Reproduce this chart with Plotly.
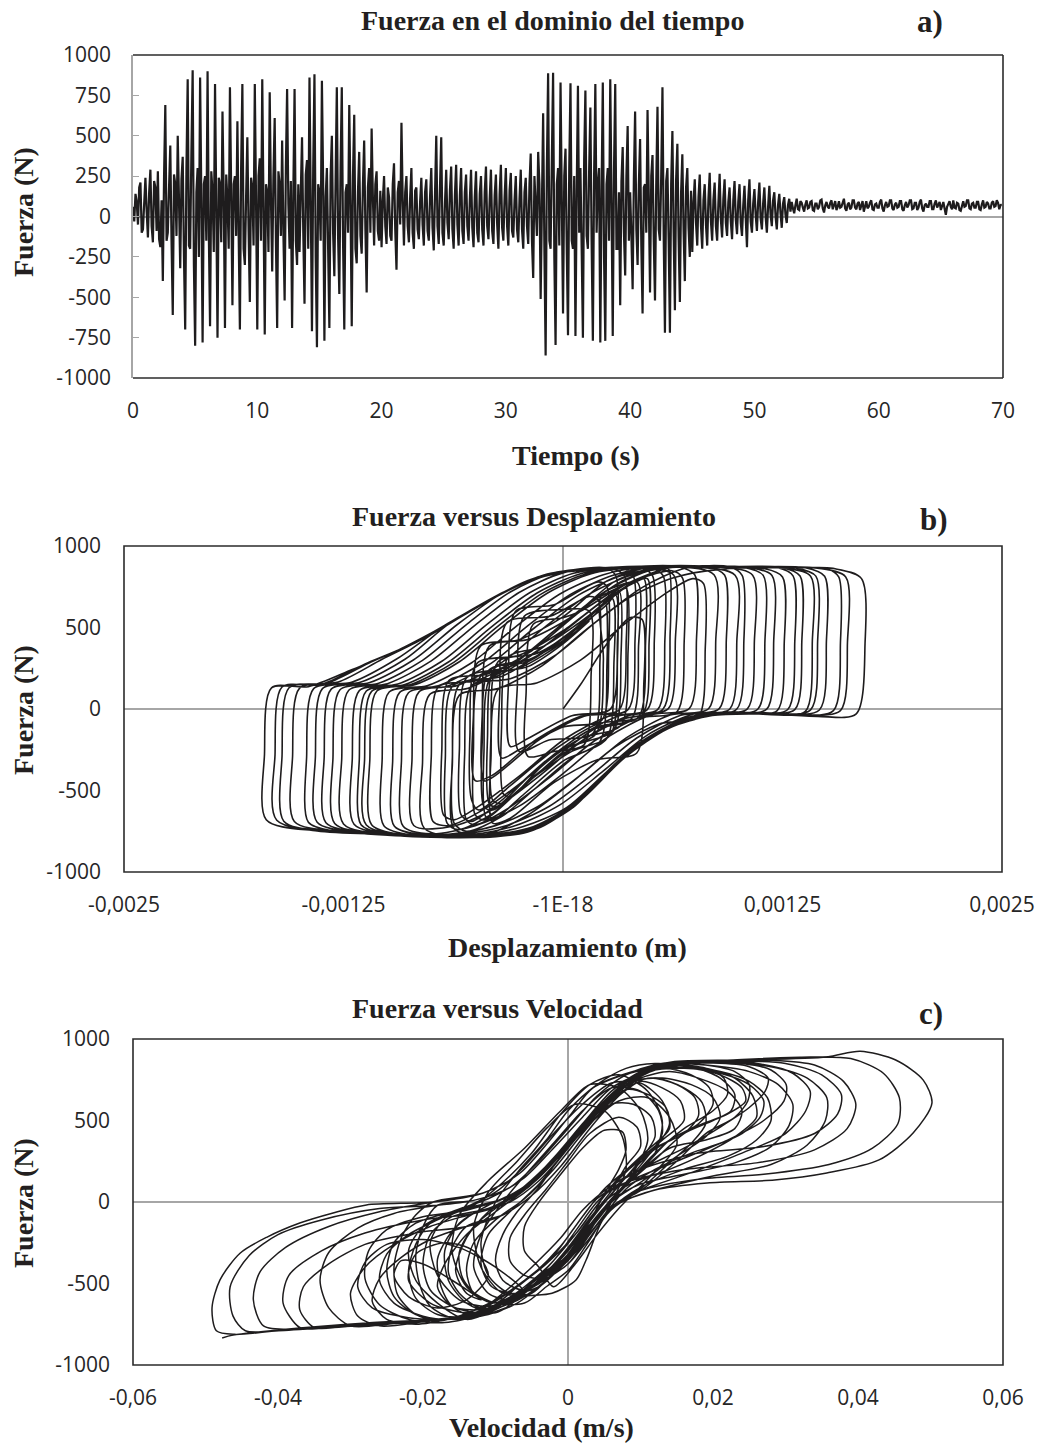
import numpy as np
import plotly.graph_objects as go

# ---------------- a) Fuerza en el dominio del tiempo ----------------
dt_a = 0.1  # s, sampling step of the series below (10 values per second, one row per second)
force_a = [
    60, -30, 140, 90, -50, 180, 210, -100, -80, 120,
    240, 30, -130, 150, 290, -60, -160, 220, 180, -90,
    280, -140, -190, 100, -400, 250, 690, -150, -100, 180,
    440, -150, -610, 260, 200, -120, 500, 100, -320, 230,
    370, -250, -700, 300, 850, -180, -200, 400, 905, -300,
    -800, 150, 300, -250, 860, 100, -780, 200, 250, -150,
    900, -100, -680, 280, 150, -220, 820, 60, -750, 240,
    200, -160, 650, 120, -690, 260, 100, -200, 800, 150,
    -550, 200, 250, -120, 590, -100, -700, 300, 820, -200,
    -300, 120, 490, -80, -530, 240, 180, -180, 820, 100,
    -700, 250, 360, -150, 850, 60, -730, 200, 150, -220,
    770, 100, -340, 250, 610, -160, -690, 280, 200, -120,
    470, -100, -520, 300, 790, 80, -200, 220, -690, 150,
    790, -150, -300, 200, -220, 150, 490, -100, -540, 260,
    350, -200, 860, 100, -710, 300, 880, -250, -810, 200,
    150, -150, 840, 200, -770, 120, 300, -200, -690, 250,
    500, -100, -370, 220, 800, -120, -480, 300, 800, -150,
    -700, 150, 200, -100, 690, 80, -680, 250, 630, -200,
    -290, 150, 400, -120, -230, 200, 470, -80, -470, 180,
    300, -100, 545, 120, -180, 200, 280, -90, -150, 160,
    -190, 100, 250, -60, -170, 180, 120, -120, -150, 200,
    330, -80, -330, 150, 220, -50, 580, 100, -180, 150,
    250, -60, -160, 120, 300, -100, -200, 160, 180, -80,
    -140, 90, 240, -50, -180, 150, 230, -90, -150, 120,
    300, -70, -210, 140, 500, -60, -170, 180, 490, -100,
    -180, 80, 290, -40, -140, 160, 310, -80, -200, 130,
    320, -50, -180, 130, 300, -90, -170, 150, 260, -60,
    -150, 100, 290, -70, -190, 120, 280, -100, -160, 140,
    250, -80, -180, 150, 310, -60, -140, 110, 290, -90,
    -170, 130, 260, -50, -200, 140, 320, -70, -150, 120,
    300, -60, -180, 160, 270, -90, -130, 100, 250, -80,
    -160, 110, 290, -80, -200, 150, 240, -60, -170, 200,
    390, -150, -380, 250, 100, -120, 400, 200, -510, 300,
    640, -200, -860, 300, 887, -150, -200, 350, 890, -250,
    -795, 200, 300, -180, 830, 100, -600, 250, 420, -200,
    -735, 300, 825, -150, -200, 250, -740, 150, 810, -100,
    300, -200, -750, 350, 780, -120, -200, 280, 675, -150,
    -770, 250, 820, -100, 200, 300, -780, 150, 830, -250,
    -770, 200, 300, -150, 850, 100, -740, 280, 820, -200,
    -200, 150, -550, 220, 430, -100, -365, 250, 560, -150,
    150, -120, -450, 230, 650, -80, -300, 200, 480, -180,
    -600, 180, 200, -100, 660, 120, -470, 250, 380, -150,
    -520, 200, 680, -80, -150, 250, 800, -120, -720, 220,
    300, -150, -720, 200, 530, -100, -580, 230, 450, -130,
    -530, 150, 385, -90, -400, 180, 300, -70, -250, 160,
    -220, 90, 230, -40, -180, 120, 260, -60, -200, 100,
    200, -50, -180, 110, 270, -30, -150, 100, 210, -60,
    -150, 80, 265, -20, -130, 110, 230, -40, -120, 90,
    180, -30, -140, 100, 220, -20, -110, 90, 200, -40,
    -120, 70, 190, -10, -190, 100, 230, -30, -100, 80,
    170, 10, -90, 90, 210, -10, -80, 80, 180, 0,
    -100, 60, 190, 10, -60, 100, 150, 0, -80, 70,
    140, 20, -70, 80, 120, 10, -40, 70, 110, 30,
    90, 50, 20, 70, 110, 45, 40, 95, 85, 55,
    30, 75, 100, 50, 55, 90, 95, 40, 35, 80,
    80, 45, 60, 100, 105, 50, 25, 70, 90, 60,
    50, 85, 100, 45, 70, 95, 40, 60, 95, 55,
    60, 90, 110, 50, 35, 75, 85, 45, 55, 100,
    100, 55, 45, 80, 90, 40, 70, 95, 30, 65,
    95, 50, 60, 85, 100, 45, 40, 75, 80, 55,
    55, 90, 105, 50, 30, 70, 90, 60, 65, 100,
    100, 50, 40, 75, 85, 55, 60, 95, 95, 45,
    35, 70, 90, 55, 70, 100, 100, 45, 50, 85,
    85, 40, 55, 90, 105, 50, 30, 70, 80, 60,
    60, 95, 95, 45, 45, 80, 100, 55, 70, 90,
    40, 75, 90, 50, 10, 60, 85, 95, 60, 45,
    100, 55, 50, 85, 80, 40, 35, 70, 95, 60,
    65, 100, 100, 50, 45, 80, 85, 55, 55, 90,
    90, 45, 40, 75, 100, 55, 60, 90, 80, 50,
    50, 85, 95, 60, 65, 100, 85, 45, 70, 75,
]
time_a = np.arange(len(force_a)) * dt_a
time_ticks = [0, 10, 20, 30, 40, 50, 60, 70]
force_ticks_a = [1000, 750, 500, 250, 0, -250, -500, -750, -1000]

# ---------------- b) Fuerza versus Desplazamiento (desplazamiento en mm) ----------------
disp_b_mm = [
    0.00, 0.10, 0.25, 0.38,
    0.45, 0.46, 0.42, 0.20, -0.05, -0.30, -0.40, -0.41, -0.37, -0.15, 0.10, 0.35, 0.60, 0.74,
    0.80, 0.81, 0.77, 0.55, 0.30, 0.05, -0.20, -0.45, -0.62, -0.63, -0.59, -0.37, -0.12, 0.13, 0.38, 0.63, 0.88, 1.15,
    1.25, 1.26, 1.22, 1.00, 0.75, 0.50, 0.25, 0.00, -0.25, -0.60, -0.90, -1.09, -1.10, -1.06, -0.84, -0.59, -0.34, -0.09, 0.16, 0.41, 0.80, 1.20, 1.55,
    1.70, 1.72, 1.67, 1.45, 1.10, 0.80, 0.55, 0.30, 0.05, -0.20, -0.60, -1.00, -1.40, -1.69, -1.70, -1.66, -1.45, -1.20, -0.95, -0.70, -0.45, -0.20, 0.05, 0.40, 0.80, 1.25,
    1.41, 1.42, 1.38, 1.15, 0.85, 0.60, 0.35, 0.10, -0.15, -0.50, -0.90, -1.25, -1.53, -1.54, -1.50, -1.28, -1.03, -0.78, -0.53, -0.28, -0.03, 0.30, 0.70,
    0.98, 0.99, 0.95, 0.73, 0.48, 0.23, -0.02, -0.27, -0.52, -0.77, -0.96, -0.97, -0.93, -0.71, -0.46, -0.21, 0.04, 0.29, 0.50,
    0.57, 0.58, 0.54, 0.32, 0.07, -0.18, -0.43, -0.65, -0.74, -0.75, -0.71, -0.49, -0.24, 0.01, 0.26, 0.51, 0.76, 1.05,
    1.19, 1.20, 1.16, 0.94, 0.69, 0.44, 0.19, -0.06, -0.31, -0.70, -1.05, -1.30, -1.31, -1.27, -1.05, -0.80, -0.55, -0.30, -0.05, 0.20, 0.60, 1.00, 1.45,
    1.61, 1.62, 1.58, 1.35, 1.05, 0.80, 0.60, 0.35, 0.12, -0.10, -0.40, -0.80, -1.20, -1.63, -1.64, -1.60, -1.38, -1.13, -0.88, -0.63, -0.38, -0.13, 0.15, 0.50, 0.90,
    1.08, 1.09, 1.05, 0.83, 0.58, 0.33, 0.08, -0.17, -0.42, -0.80, -1.15, -1.40, -1.41, -1.37, -1.15, -0.90, -0.65, -0.40, -0.15, 0.10, 0.45,
    0.63, 0.64, 0.60, 0.38, 0.13, -0.12, -0.37, -0.62, -0.85, -0.86, -0.82, -0.60, -0.35, -0.10, 0.15, 0.40, 0.65, 1.00, 1.38,
    1.49, 1.50, 1.46, 1.20, 0.92, 0.70, 0.45, 0.22, 0.00, -0.25, -0.60, -1.00, -1.35, -1.59, -1.60, -1.56, -1.34, -1.09, -0.84, -0.59, -0.34, -0.09, 0.20, 0.60,
    0.86, 0.87, 0.83, 0.61, 0.36, 0.11, -0.14, -0.39, -0.64, -0.95, -1.19, -1.20, -1.16, -0.94, -0.69, -0.44, -0.19, 0.06, 0.28,
    0.35, 0.36, 0.32, 0.10, -0.15, -0.40, -0.50, -0.51, -0.47, -0.25, 0.00, 0.25, 0.50, 0.90, 1.25,
    1.35, 1.36, 1.32, 1.08, 0.85, 0.62, 0.40, 0.16, -0.08, -0.35, -0.75, -1.10, -1.35, -1.36, -1.32, -1.10, -0.85, -0.60, -0.35, -0.10, 0.15, 0.50, 0.82,
    0.92, 0.93, 0.89, 0.67, 0.42, 0.17, -0.08, -0.33, -0.58, -0.85, -1.02, -1.03, -0.99, -0.77, -0.52, -0.27, -0.02, 0.23, 0.45,
    0.51, 0.52, 0.48, 0.26, 0.01, -0.24, -0.49, -0.62, -0.68, -0.69, -0.65, -0.43, -0.18, 0.07, 0.32, 0.57, 0.90, 1.30, 1.50,
    1.57, 1.58, 1.54, 1.30, 1.00, 0.75, 0.52, 0.28, 0.05, -0.20, -0.55, -0.95, -1.25, -1.26, -1.22, -1.00, -0.75, -0.50, -0.25, 0.00, 0.30, 0.70, 1.02,
    1.14, 1.15, 1.11, 0.89, 0.64, 0.39, 0.14, -0.11, -0.36, -0.75, -1.00, -1.15, -1.16, -1.12, -0.90, -0.65, -0.40, -0.15, 0.10, 0.35, 0.65,
    0.75, 0.76, 0.72, 0.50, 0.25, 0.00, -0.25, -0.50, -0.75, -0.91, -0.92, -0.88, -0.66, -0.41, -0.16, 0.09, 0.34, 0.59, 0.95, 1.22,
    1.31, 1.32, 1.28, 1.06, 0.81, 0.56, 0.31, 0.06, -0.19, -0.50, -0.79, -0.80, -0.76, -0.54, -0.29, -0.04, 0.21, 0.46, 0.62,
    0.68, 0.69, 0.65, 0.43, 0.18, -0.07, -0.32, -0.50, -0.55, -0.56, -0.52, -0.30, -0.05, 0.20, 0.45, 0.70, 0.95,
    1.02, 1.03, 0.99, 0.77, 0.52, 0.27, 0.02, -0.23, -0.48, -0.80, -1.12, -1.13, -1.09, -0.87, -0.62, -0.37, -0.12, 0.13, 0.34,
    0.40, 0.41, 0.37, 0.12, -0.13, -0.38, -0.45, -0.46, -0.42, -0.20, 0.05, 0.30, 0.55, 0.95, 1.32,
    1.44, 1.45, 1.41, 1.15, 0.88, 0.65, 0.42, 0.20, -0.02, -0.28, -0.65, -1.05, -1.30, -1.45, -1.46, -1.42, -1.20, -0.95, -0.70, -0.45, -0.20, 0.05, 0.24,
    0.30, 0.31, 0.27, 0.05, -0.20, -0.30, -0.31, -0.27, -0.05, 0.20,
    0.25, 0.26, 0.22, 0.00, -0.25, -0.35, -0.36, -0.32, -0.07, 0.15,
    0.20, 0.21, 0.17, -0.08, -0.25, -0.26, -0.22, 0.00,
    0.15, 0.16, 0.12, -0.05, -0.20, -0.21, -0.17, 0.00, 0.10,
    0.42, 0.43, 0.39, 0.15, -0.10, -0.35, -0.52, -0.58, -0.59, -0.55, -0.30, -0.05, 0.20, 0.38,
    0.48, 0.49, 0.45, 0.20, -0.05, -0.30, -0.48, -0.52, -0.53, -0.49, -0.25, 0.00, 0.25, 0.40,
    0.22, 0.23, 0.19, 0.00, -0.20, -0.38, -0.42, -0.43, -0.39, -0.20, 0.00, 0.18,
    0.28, 0.29, 0.25, 0.05, -0.15, -0.35, -0.55, -0.62, -0.63, -0.59, -0.35, -0.10, 0.10, 0.30,
    0.36, 0.37, 0.33, 0.10, -0.12, -0.30, -0.34, -0.35, -0.31, -0.12, 0.08, 0.25,
    0.32, 0.33, 0.29, 0.08, -0.15, -0.40, -0.60, -0.66, -0.67, -0.63, -0.40, -0.15, 0.10, 0.35, 0.55,
    0.60, 0.61, 0.57, 0.35, 0.10, -0.15, -0.35, -0.40, -0.41, -0.37, -0.15, 0.05, 0.25,
    0.30, 0.31, 0.27, 0.05, -0.18, -0.40, -0.45, -0.46, -0.42, -0.20, 0.02, 0.20, 0.40,
    0.46, 0.47, 0.43, 0.20, -0.02, -0.25, -0.45, -0.50, -0.51, -0.47, -0.25, 0.00, 0.20,
    0.24, 0.25, 0.21, 0.00, -0.22, -0.40, -0.44, -0.45, -0.41, -0.20, 0.00, 0.15,
]
force_b = [
    0, 150, 400, 560,
    550, 150, -270, -310, -450, -670, -700, -300, 120, 160, 300, 520, 720, 800,
    770, 370, -50, -90, -230, -450, -650, -770, -735, -340, 85, 125, 265, 485, 685, 805, 855, 860,
    810, 410, -10, -25, -50, -175, -390, -640, -760, -785, -775, -710, -310, 110, 150, 290, 510, 710, 830, 868, 872, 868, 860,
    800, 400, -30, -45, -25, -35, -140, -340, -600, -755, -790, -770, -748, -680, -280, 130, 137, 242, 355, 495, 650, 788, 852, 870, 873, 866,
    815, 420, -15, -28, -40, -120, -300, -560, -735, -780, -770, -752, -690, -290, 128, 165, 305, 440, 598, 748, 833, 866, 872,
    820, 420, 0, -35, -160, -380, -590, -715, -770, -775, -720, -320, 102, 142, 282, 502, 702, 822, 862,
    818, 420, -2, -42, -182, -402, -602, -715, -690, -290, 135, 175, 315, 535, 735, 855, 872, 870,
    819, 420, -1, -25, -68, -215, -455, -680, -770, -786, -764, -702, -302, 118, 158, 298, 518, 718, 836, 864, 874, 870, 864,
    810, 410, -10, -35, -22, -32, -115, -285, -520, -700, -782, -783, -757, -683, -283, 135, 150, 275, 390, 540, 692, 815, 860, 872, 872,
    821, 420, 1, -30, -125, -310, -570, -722, -772, -782, -757, -695, -295, 125, 165, 305, 522, 678, 806, 856, 870,
    822, 425, 2, -38, -178, -398, -598, -718, -715, -315, 105, 145, 285, 505, 705, 825, 872, 871, 866,
    814, 415, -6, -30, -18, -55, -200, -420, -630, -762, -790, -770, -750, -688, -288, 130, 160, 290, 408, 566, 716, 828, 864, 874,
    823, 425, 3, -37, -177, -397, -597, -717, -767, -770, -707, -307, 113, 153, 293, 513, 713, 833, 860,
    815, 420, -5, -45, -185, -405, -440, -40, 385, 425, 565, 785, 872, 872, 867,
    816, 415, -4, -20, -28, -95, -235, -480, -690, -774, -786, -760, -698, -298, 122, 162, 302, 520, 708, 823, 861, 873, 873,
    822, 425, 2, -38, -178, -398, -598, -718, -768, -775, -716, -316, 104, 144, 284, 504, 704, 824, 862,
    816, 420, -4, -44, -184, -404, -604, -680, -650, -250, 175, 215, 355, 575, 775, 872, 871, 866, 862,
    810, 410, -10, -38, -25, -42, -160, -360, -590, -748, -788, -772, -705, -305, 115, 155, 295, 515, 715, 835, 868, 873, 871,
    820, 420, 0, -28, -88, -255, -505, -708, -776, -785, -768, -710, -310, 110, 150, 290, 510, 710, 830, 868, 874,
    824, 425, 4, -36, -176, -396, -596, -716, -766, -720, -320, 100, 140, 280, 500, 700, 820, 870, 871, 868,
    817, 415, -3, -22, -32, -138, -322, -602, -747, -788, -732, -332, 88, 128, 268, 488, 688, 808, 848,
    805, 410, -15, -55, -195, -415, -615, -710, -680, -280, 145, 185, 325, 545, 745, 865, 871,
    820, 420, 0, -40, -160, -365, -605, -722, -772, -780, -712, -312, 108, 148, 288, 508, 708, 828, 860,
    816, 420, -4, -44, -184, -404, -440, -40, 386, 426, 566, 786, 874, 872, 866,
    815, 415, -5, -27, -26, -82, -225, -440, -650, -768, -788, -765, -750, -695, -295, 125, 165, 305, 493, 648, 788, 852, 866,
    819, 420, -1, -41, -181, -230, 170, 600, 640, 780,
    750, 360, -70, -110, -250, -300, 100, 530, 570, 690,
    670, 280, -150, -190, -260, 140, 570, 610,
    600, 210, -220, -260, -290, 100, 520, 560, 600,
    780, 380, -60, -130, -320, -560, -690, -650, -250, 190, 260, 430, 640, 760,
    800, 400, -40, -90, -250, -470, -620, -560, -160, 280, 330, 480, 680, 780,
    700, 300, -150, -250, -420, -600, -580, -180, 250, 300, 420, 600,
    680, 280, -180, -300, -480, -660, -750, -700, -300, 150, 200, 360, 520, 700,
    740, 340, -100, -180, -350, -540, -520, -120, 320, 380, 520, 660,
    720, 320, -130, -220, -400, -640, -740, -700, -300, 140, 190, 350, 560, 760, 850,
    860, 460, 0, -60, -200, -400, -580, -560, -160, 290, 340, 470, 640,
    700, 300, -160, -260, -430, -620, -600, -200, 240, 290, 450, 620, 780,
    800, 400, -50, -110, -280, -500, -680, -650, -250, 200, 250, 410, 600,
    660, 260, -200, -320, -520, -680, -660, -260, 200, 260, 400, 540,
]
disp_b = np.array(disp_b_mm) / 1000.0
disp_ticks = [-0.0025, -0.00125, 0.0, 0.00125, 0.0025]
disp_ticktext = ["-0,0025", "-0,00125", "-1E-18", "0,00125", "0,0025"]
force_ticks_bc = [1000, 500, 0, -500, -1000]

# ---------------- c) Fuerza versus Velocidad (velocidad en mm/s) ----------------
vel_c_mms = [
    -47.7, -46.2, -37.0, -27.8, -18.6, -14.0, -11.7, -6.6, -2.2, 1.1, 2.5, 4.8, 7.2, 12.0, 19.2, 28.5, 35.7, 42.9, 47.6, 50.2, 49.0, 45.2, 40.3, 35.7, 23.9, 14.3, 9.7, 3.4, 0.1, -6.6, -11.7, -18.6, -27.8, -32.4, -37.0, -41.5, -45.2, -48.0, -49.1, -48.5,
    -46.0, -38.0, -28.0, -16.0, -11.0, -7.0, -3.0, 0.0, 3.0, 6.0, 10.0, 18.0, 27.0, 36.0, 42.0, 45.5, 45.7, 43.5, 39.0, 32.0, 22.0, 13.0, 8.0, 4.0, 0.0, -4.0, -8.0, -13.0, -18.0, -26.0, -34.0, -40.0, -44.0, -46.6, -46.2, -44.5,
    -40.0, -32.0, -24.0, -15.0, -10.0, -6.0, -2.0, 1.0, 4.0, 8.0, 16.0, 26.0, 34.0, 38.5, 39.7, 38.0, 34.0, 28.0, 20.0, 14.3, 9.7, 3.4, 0.1, -6.6, -11.7, -18.6, -26.0, -33.0, -39.0, -42.5, -43.4, -42.0,
    -37.0, -28.0, -20.0, -13.0, -9.0, -5.0, -1.0, 2.0, 6.0, 10.0, 18.0, 27.0, 34.0, 37.2, 37.7, 35.0, 30.0, 22.0, 12.0, 8.0, 4.0, 0.0, -4.0, -8.0, -13.0, -20.0, -28.0, -34.0, -38.5, -39.3, -37.0,
    -34.0, -26.0, -18.6, -14.0, -11.7, -6.6, -2.2, 1.1, 2.5, 4.8, 7.2, 12.0, 20.0, 28.0, 33.0, 35.5, 35.7, 33.0, 28.0, 21.0, 11.0, 7.0, 3.0, -1.0, -5.0, -9.0, -14.0, -21.0, -28.0, -33.0, -36.5, -37.0, -35.0,
    -31.0, -24.0, -16.0, -11.0, -7.0, -3.0, 0.0, 3.0, 6.0, 10.0, 17.0, 24.0, 30.0, 32.8, 33.4, 31.0, 26.0, 19.0, 13.0, 8.0, 4.0, 0.0, -4.0, -8.0, -13.0, -18.0, -24.0, -29.0, -33.0, -34.2, -33.0, -30.0,
    -24.0, -15.0, -10.0, -6.0, -2.0, 1.0, 4.0, 8.0, 15.0, 22.0, 27.0, 29.8, 30.1, 28.0, 24.0, 18.0, 12.0, 8.0, 4.0, 0.0, -4.0, -8.0, -13.0, -19.0, -24.0, -28.0, -30.0, -29.0, -26.0,
    -20.0, -13.0, -9.0, -5.0, -1.0, 2.0, 6.0, 10.0, 16.0, 21.0, 25.0, 27.2, 27.6, 25.0, 20.0, 15.0, 11.0, 7.0, 3.0, -1.0, -5.0, -9.0, -14.0, -19.0, -23.0, -26.0, -27.0, -25.0, -21.0,
    -16.0, -11.0, -7.0, -3.0, 0.0, 3.0, 6.0, 10.0, 15.0, 19.0, 23.0, 24.8, 25.0, 23.0, 19.0, 15.0, 9.7, 3.4, 0.1, -6.6, -11.7, -18.6, -21.0, -23.0, -24.0, -23.5, -21.0, -18.0,
    -15.0, -10.0, -6.0, -2.0, 1.0, 4.0, 8.0, 12.0, 16.0, 20.0, 22.0, 21.5, 19.0, 15.0, 8.0, 4.0, 0.0, -4.0, -8.0, -13.0, -18.0, -20.0, -21.0, -20.5, -19.0, -16.0,
    -13.0, -9.0, -5.0, -1.0, 2.0, 6.0, 10.0, 14.0, 18.0, 20.0, 19.5, 17.0, 13.0, 8.0, 4.0, 0.0, -4.0, -8.0, -13.0, -16.0, -18.0, -17.5, -16.0, -13.0,
    -10.0, -6.0, -2.0, 1.0, 4.0, 8.0, 12.0, 16.0, 18.0, 17.5, 15.0, 11.0, 7.0, 3.0, -1.0, -5.0, -9.0, -14.0, -16.0, -16.5, -15.0, -12.0,
    -9.0, -5.0, -1.0, 2.0, 5.0, 9.0, 13.0, 16.0, 15.5, 13.0, 10.0, 6.0, 2.0, -2.0, -6.0, -10.0, -13.0, -14.0, -13.0, -10.0,
    -7.0, -3.0, 1.0, 4.0, 7.0, 11.0, 14.0, 13.5, 11.0, 8.0, 4.0, 0.0, -4.0, -8.0, -11.0, -12.0, -10.5, -7.0,
    -4.0, 0.0, 3.0, 6.0, 9.0, 14.0, 19.0, 23.0, 24.0, 22.0, 18.0, 14.0, 10.0, 6.0, 2.0, -2.0, -6.0, -11.0, -16.0, -19.0, -20.0, -19.0, -16.0, -12.0,
    -8.0, -4.0, 0.0, 3.0, 6.0, 10.0, 16.0, 22.0, 26.0, 28.0, 27.5, 25.0, 21.0, 16.0, 11.0, 7.0, 3.0, -1.0, -5.0, -10.0, -16.0, -21.0, -24.0, -25.0, -24.0, -21.0, -16.0,
    -11.0, -7.0, -3.0, 0.0, 3.0, 6.0, 10.0, 15.0, 19.0, 21.0, 20.0, 17.0, 13.0, 9.0, 5.0, 1.0, -3.0, -8.0, -14.0, -20.0, -25.0, -27.5, -28.0, -26.0, -22.0, -17.0,
    -12.0, -8.0, -4.0, 0.0, 3.0, 6.0, 10.0, 16.0, 23.0, 28.0, 30.5, 31.0, 29.0, 25.0, 19.0, 14.0, 10.0, 6.0, 2.0, -2.0, -6.0, -11.0, -15.0, -17.0, -16.5, -14.0, -10.0,
    -6.0, -2.0, 1.0, 4.0, 7.0, 10.0, 12.0, 11.5, 9.0, 6.0, 3.0, -1.0, -4.0, -7.0, -9.0, -10.0, -9.0, -6.0,
    -3.0, 0.0, 3.0, 6.0, 8.0, 10.0, 9.5, 7.0, 3.0, 0.0, -3.0, -6.0, -8.0, -8.0, -6.0, -3.0,
    0.0, 3.0, 6.0, 10.0, 14.0, 17.0, 19.0, 18.5, 16.0, 12.0, 8.0, 4.0, 0.0, -4.0, -9.0, -15.0, -19.0, -21.0, -22.0, -21.0, -18.0, -13.0,
    -9.0, -5.0, -1.0, 2.0, 5.0, 9.0, 14.0, 19.0, 23.0, 26.0, 25.5, 23.0, 19.0, 14.0, 10.0, 6.0, 2.0, -2.0, -6.0, -10.0, -13.0, -15.0, -14.5, -12.0, -8.0,
    -3.0, 0.0, 3.0, 5.0, 7.0, 8.0, 7.5, 5.0, 2.0, -1.0, -4.0, -6.0, -6.0, -4.0,
    -2.0, 1.0, 4.0, 7.0, 11.0, 15.0, 14.0, 11.0, 7.0, 3.0, -1.0, -5.0, -10.0, -14.0, -17.0, -18.0, -16.0, -12.0,
    -8.0, -4.0, 0.0, 3.0, 6.0, 9.0, 11.0, 10.0, 7.0, 3.0, -1.0, -6.0, -11.0, -15.0, -16.0, -14.0, -10.0,
    -6.0, -3.0, 0.0, 2.0, 4.0, 6.0, 8.0, 7.5, 5.0, 1.0, -3.0, -7.0, -11.0, -13.0, -12.0, -9.0,
    -5.0, -2.0, 1.0, 3.0, 5.0, 8.0, 12.0, 13.0, 11.0, 7.0, 3.0, -1.0, -5.0, -9.0, -13.0, -17.0, -19.0, -18.0, -15.0, -11.0,
    -7.0, -3.0, 0.0, 2.5, 5.0, 8.0, 12.0, 16.0, 20.0, 22.5, 23.0, 21.0, 17.0, 12.0, 8.0, 4.0, 0.0, -3.0, -7.0, -10.0, -12.0, -11.0, -8.0,
    -4.0, -1.0, 2.0, 5.0, 8.0, 12.0, 17.0, 21.0, 24.0, 26.5, 27.0, 25.0, 21.0, 16.0, 11.0, 6.0, 2.0, -2.0, -6.0, -11.0, -16.0, -20.0, -22.0, -21.0, -18.0,
    -14.0, -10.0, -6.0, -3.0, 0.0, 3.0, 6.0, 9.0, 12.0, 14.0, 13.0, 10.0, 6.0, 2.0, -2.0, -6.0, -10.0, -14.0, -18.0, -22.0, -25.0, -26.0, -24.0, -20.0,
    -16.0, -11.0, -7.0, -4.0, -1.0, 2.0, 5.0, 8.0, 11.0, 13.0, 12.5, 10.0, 6.0, 2.0, -2.0, -6.0, -9.0, -12.0, -13.0, -11.0, -8.0,
    -5.0, -2.0, 1.0, 4.0, 7.0, 10.0, 14.0, 18.0, 22.0, 24.5, 24.0, 21.0, 17.0, 13.0, 9.0, 5.0, 1.0, -3.0, -7.0, -11.0, -14.0, -15.5, -14.0,
    -12.0, -16.0, -20.0, -23.0, -24.0, -22.0, -18.0, -14.0, -11.0, -13.0, -17.0, -21.0, -22.0, -19.0, -14.0, -9.0,
    -6.0, -10.0, -15.0, -20.0, -25.0, -28.0, -29.0, -27.0, -22.0, -17.0, -12.0, -8.0,
]
force_c = [
    -834, -816, -773, -742, -724, -712, -681, -583, -560, -478, -356, -110, -6, 74, 117, 135, 178, 258, 423, 607, 748, 871, 925, 890, 871, 859, 810, 699, 521, 178, 55, 0, -18, -67, -129, -215, -313, -478, -650, -790,
    -812, -780, -748, -715, -650, -560, -470, -380, -200, -30, 70, 140, 170, 230, 330, 480, 640, 790, 880, 888, 870, 850, 780, 650, 450, 250, 90, 10, -20, -40, -110, -200, -330, -520, -700, -790,
    -790, -765, -738, -700, -600, -480, -330, -150, 20, 120, 200, 240, 320, 450, 600, 740, 840, 870, 868, 859, 810, 699, 521, 178, 55, 0, -60, -150, -280, -430, -600, -760,
    -780, -752, -728, -690, -560, -400, -220, -50, 100, 200, 300, 340, 420, 540, 660, 780, 850, 862, 830, 720, 560, 330, 130, 0, -70, -110, -190, -300, -450, -620, -770,
    -775, -745, -724, -712, -681, -583, -560, -478, -356, -110, -6, 74, 160, 230, 350, 500, 640, 760, 830, 858, 800, 650, 450, 220, 40, -80, -150, -190, -260, -380, -520, -660, -770,
    -765, -740, -715, -650, -560, -470, -380, -200, -30, 70, 180, 300, 420, 560, 680, 790, 850, 858, 850, 780, 650, 450, 250, 90, 10, -20, -70, -160, -310, -480, -650, -760,
    -745, -700, -600, -480, -330, -150, 20, 120, 250, 380, 500, 620, 720, 810, 850, 855, 830, 720, 560, 330, 130, 0, -70, -150, -260, -400, -560, -700, -760,
    -735, -690, -560, -400, -220, -50, 100, 200, 330, 460, 580, 680, 760, 830, 852, 845, 800, 650, 450, 220, 40, -80, -150, -230, -340, -470, -610, -720, -750,
    -715, -650, -560, -470, -380, -200, -30, 70, 250, 420, 520, 620, 720, 800, 840, 850, 810, 699, 521, 178, 55, 0, -80, -220, -400, -570, -690, -730,
    -700, -600, -480, -330, -150, 20, 120, 300, 450, 560, 660, 760, 820, 840, 780, 650, 450, 250, 90, 10, -20, -150, -330, -500, -640, -710,
    -690, -560, -400, -220, -50, 100, 200, 380, 480, 600, 700, 780, 820, 720, 560, 330, 130, 0, -70, -180, -350, -520, -640, -700,
    -640, -520, -360, -180, 0, 150, 330, 420, 530, 640, 720, 760, 650, 450, 220, 40, -80, -150, -280, -430, -560, -650,
    -580, -450, -270, -90, 80, 230, 380, 500, 620, 700, 740, 620, 420, 200, 20, -110, -250, -420, -560, -620,
    -520, -380, -200, -20, 150, 320, 450, 580, 660, 690, 540, 330, 110, -60, -200, -380, -520, -560,
    -450, -330, -150, 20, 150, 330, 380, 450, 560, 680, 760, 800, 760, 640, 460, 250, 80, -40, -90, -200, -380, -540, -640, -680,
    -600, -500, -380, -220, -40, 90, 200, 280, 380, 500, 640, 740, 800, 830, 800, 680, 500, 290, 110, 0, -60, -130, -250, -420, -580, -690, -720,
    -660, -570, -450, -340, -170, 0, 120, 280, 400, 520, 640, 720, 760, 740, 600, 400, 200, 40, -50, -90, -170, -300, -470, -630, -720, -740,
    -690, -600, -480, -320, -140, 10, 110, 170, 240, 340, 470, 600, 720, 800, 840, 845, 800, 680, 480, 270, 90, -20, -130, -300, -480, -620, -680,
    -560, -400, -240, -60, 100, 260, 400, 520, 600, 600, 480, 280, 90, -60, -200, -360, -480, -540,
    -430, -280, -100, 70, 220, 340, 460, 520, 420, 250, 80, -80, -220, -360, -450, -470,
    -360, -200, -30, 80, 240, 360, 480, 610, 700, 760, 720, 560, 360, 160, 20, -50, -130, -260, -430, -590, -690, -700,
    -620, -500, -340, -170, 0, 120, 200, 300, 400, 520, 650, 760, 820, 840, 790, 660, 470, 260, 80, -40, -150, -310, -470, -590, -620,
    -480, -320, -120, 50, 200, 320, 430, 440, 330, 170, 0, -150, -300, -400,
    -520, -380, -200, -40, 140, 350, 520, 640, 620, 480, 300, 110, -60, -200, -380, -520, -640, -660,
    -600, -480, -330, -170, 0, 180, 380, 560, 700, 720, 560, 330, 130, -80, -300, -520, -620,
    -620, -520, -420, -300, -160, 0, 200, 400, 560, 600, 450, 250, 60, -150, -400, -560,
    -560, -430, -300, -180, -40, 100, 300, 500, 680, 780, 720, 540, 300, 120, -20, -100, -250, -450, -600, -640,
    -580, -460, -340, -200, -50, 100, 260, 420, 500, 560, 660, 760, 830, 850, 820, 720, 560, 380, 180, 0, -250, -450, -560,
    -520, -400, -250, -80, 80, 200, 300, 360, 420, 520, 620, 720, 790, 820, 800, 700, 520, 330, 150, 20, -60, -150, -300, -480, -620,
    -720, -660, -560, -440, -300, -120, 50, 200, 330, 480, 620, 730, 730, 600, 420, 220, 60, -30, -110, -200, -320, -480, -620, -700,
    -720, -690, -620, -520, -390, -220, -40, 120, 280, 420, 560, 680, 700, 560, 360, 160, 0, -200, -400, -560, -600,
    -500, -360, -200, -20, 140, 260, 380, 470, 540, 620, 700, 780, 820, 830, 770, 620, 420, 220, 60, -60, -220, -420, -560,
    -600, -480, -380, -360, -450, -580, -650, -600, -450, -300, -250, -320, -480, -620, -680, -640,
    -560, -400, -280, -230, -260, -370, -520, -650, -710, -720, -700, -640,
]
vel_c = np.array(vel_c_mms) / 1000.0
vel_ticks = [-0.06, -0.04, -0.02, 0.0, 0.02, 0.04, 0.06]
vel_ticktext = ["-0,06", "-0,04", "-0,02", "0", "0,02", "0,04", "0,06"]

assert len(force_a) == 700, len(force_a)
assert len(disp_b) == len(force_b), (len(disp_b), len(force_b))
assert len(vel_c) == len(force_c), (len(vel_c), len(force_c))

# ---------------- figure ----------------
W, H = 1037, 1456
INK = "#1e1c1d"
GRAY = "#a6a6a6"
BORDER = "#2b2b2b"
TICKFONT = dict(family="Open Sans", size=21, color="#262626")
SERIF = "Liberation Serif"


def fx(p):
    return p / W


def fy(p):
    return 1 - p / H


fig = go.Figure()
fig.add_trace(go.Scatter(x=time_a, y=force_a, mode="lines",
                         line=dict(color=INK, width=2.2),
                         xaxis="x", yaxis="y", hoverinfo="skip"))
fig.add_trace(go.Scatter(x=disp_b, y=force_b, mode="lines",
                         line=dict(color=INK, width=1.6, shape="spline", smoothing=0.8),
                         xaxis="x2", yaxis="y2", hoverinfo="skip"))
fig.add_trace(go.Scatter(x=vel_c, y=force_c, mode="lines",
                         line=dict(color=INK, width=1.5, shape="spline", smoothing=0.8),
                         xaxis="x3", yaxis="y3", hoverinfo="skip"))

common_x = dict(showgrid=False, ticks="", showline=False, tickfont=TICKFONT,
                tickmode="array", fixedrange=True, automargin=False, ticklabelstandoff=18)
common_y = dict(showgrid=False, showline=False, tickfont=TICKFONT,
                tickmode="array", fixedrange=True, automargin=False, zeroline=True,
                zerolinecolor=GRAY, zerolinewidth=1.5)

fig.update_layout(
    template="none",
    width=W, height=H,
    autosize=False,
    margin=dict(l=0, r=0, t=0, b=0, pad=0, autoexpand=False),
    paper_bgcolor="white", plot_bgcolor="white",
    showlegend=False,
    xaxis=dict(common_x, domain=[fx(133), fx(1003)], anchor="y", range=[0, 70],
               tickvals=time_ticks, ticktext=[str(v) for v in time_ticks], zeroline=False),
    yaxis=dict(common_y, domain=[fy(378), fy(55)], anchor="x", range=[-1000, 1000],
               tickvals=force_ticks_a, ticktext=[str(v) for v in force_ticks_a],
               showline=True, linecolor=GRAY, linewidth=1.5,
               ticks="inside", ticklen=6, tickcolor=GRAY, tickwidth=1.2,
               ticklabelstandoff=16),
    xaxis2=dict(common_x, domain=[fx(124), fx(1002)], anchor="y2", range=[-0.0025, 0.0025],
                tickvals=disp_ticks, ticktext=disp_ticktext,
                zeroline=True, zerolinecolor=GRAY, zerolinewidth=1.5),
    yaxis2=dict(common_y, domain=[fy(872), fy(546)], anchor="x2", range=[-1000, 1000],
                tickvals=force_ticks_bc, ticktext=[str(v) for v in force_ticks_bc],
                ticks="", ticklabelstandoff=22),
    xaxis3=dict(common_x, domain=[fx(133), fx(1003)], anchor="y3", range=[-0.06, 0.06],
                tickvals=vel_ticks, ticktext=vel_ticktext,
                zeroline=True, zerolinecolor=GRAY, zerolinewidth=1.5),
    yaxis3=dict(common_y, domain=[fy(1365), fy(1039)], anchor="x3", range=[-1000, 1000],
                tickvals=force_ticks_bc, ticktext=[str(v) for v in force_ticks_bc],
                ticks="", ticklabelstandoff=22),
)

# plot-area borders
shapes = []
for side in [(0, 1, 1, 1), (1, 0, 1, 1), (0, 0, 1, 0)]:
    shapes.append(dict(type="line", xref="x domain", yref="y domain",
                       x0=side[0], y0=side[1], x1=side[2], y1=side[3],
                       line=dict(color=BORDER, width=1.6), layer="above"))
for ax in ["2", "3"]:
    shapes.append(dict(type="rect", xref=f"x{ax} domain", yref=f"y{ax} domain",
                       x0=0, y0=0, x1=1, y1=1,
                       line=dict(color=BORDER, width=1.6), layer="above"))
fig.update_layout(shapes=shapes)


def ann(text, x, y, size, angle=0):
    return dict(text=text, x=fx(x), y=fy(y), xref="paper", yref="paper",
                showarrow=False, xanchor="center", yanchor="middle", textangle=angle,
                font=dict(family=SERIF, size=size, color="#231f20", weight="bold"))


annotations = [
    ann("Fuerza en el dominio del tiempo", 552, 21, 28),
    ann("a)", 930, 22, 31),
    ann("Tiempo (s)", 576, 455, 28),
    ann("Fuerza (N)", 23, 212, 28, -90),
    ann("Fuerza versus Desplazamiento", 534, 516, 28),
    ann("b)", 934, 519, 31),
    ann("Desplazamiento (m)", 567, 947, 28),
    ann("Fuerza (N)", 23, 710, 28, -90),
    ann("Fuerza versus Velocidad", 497, 1008, 28),
    ann("c)", 931, 1013, 31),
    ann("Velocidad (m/s)", 541, 1427, 28),
    ann("Fuerza (N)", 23, 1203, 28, -90),
]
fig.update_layout(annotations=annotations)

fig.write_html("out.html", config={"displayModeBar": False})
